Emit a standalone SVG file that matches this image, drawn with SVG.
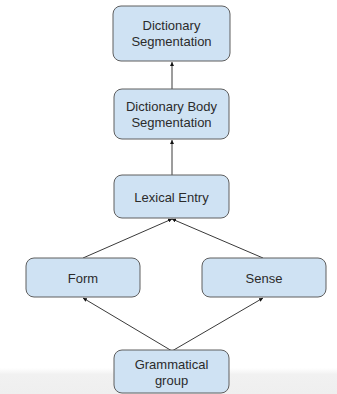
<svg xmlns="http://www.w3.org/2000/svg" width="337" height="394" viewBox="0 0 337 394">
<defs>
<style>
.box{fill:#cfe2f3;stroke:#5f5f5f;stroke-width:1}
.t{font-family:"Liberation Sans",Arial,sans-serif;font-size:13px;fill:#2b2b2b;text-anchor:middle}
.c{stroke:#3a3a3a;stroke-width:1;fill:none;marker-end:url(#ah)}
</style>
<marker id="ah" viewBox="0 0 6 6" refX="6" refY="3" markerWidth="4" markerHeight="4" orient="auto" markerUnits="userSpaceOnUse">
<path d="M0,0 L6,3 L0,6 Z" fill="#111"/>
</marker>
<linearGradient id="bg" x1="0" y1="0" x2="0" y2="1">
<stop offset="0" stop-color="#ffffff"/>
<stop offset="0.25" stop-color="#f1f1f1"/>
<stop offset="1" stop-color="#efefef"/>
</linearGradient>
</defs>
<rect x="0" y="0" width="337" height="394" fill="#ffffff"/>
<rect x="0" y="368" width="337" height="26" fill="url(#bg)"/>
<g id="connectors">
<line class="c" x1="172" y1="89" x2="172" y2="62"/>
<line class="c" x1="172" y1="175" x2="172" y2="140"/>
<line class="c" x1="83" y1="258" x2="172" y2="219"/>
<line class="c" x1="263" y1="258" x2="172" y2="219"/>
<line class="c" x1="172" y1="351" x2="83" y2="298"/>
<line class="c" x1="172" y1="351" x2="263" y2="298"/>
</g>
<g id="dict-seg">
<rect class="box" x="113" y="6" width="117" height="55" rx="8"/>
<text class="t" x="171.5" y="29.5">Dictionary</text>
<text class="t" x="171.5" y="46">Segmentation</text>
</g>
<g id="dict-body-seg">
<rect class="box" x="114" y="89" width="115" height="50" rx="8"/>
<text class="t" x="171.5" y="110.5">Dictionary Body</text>
<text class="t" x="171.5" y="126.5">Segmentation</text>
</g>
<g id="lexical-entry">
<rect class="box" x="114" y="175" width="115" height="43" rx="8"/>
<text class="t" x="171.5" y="201.5">Lexical Entry</text>
</g>
<g id="form">
<rect class="box" x="26" y="258" width="114" height="39" rx="8"/>
<text class="t" x="83" y="282.5">Form</text>
</g>
<g id="sense">
<rect class="box" x="202" y="258" width="124" height="39" rx="8"/>
<text class="t" x="264" y="282.5">Sense</text>
</g>
<g id="grammatical-group">
<rect class="box" x="114" y="350" width="115" height="43" rx="8"/>
<text class="t" x="171.5" y="368.5">Grammatical</text>
<text class="t" x="171.5" y="384.5">group</text>
</g>
</svg>
